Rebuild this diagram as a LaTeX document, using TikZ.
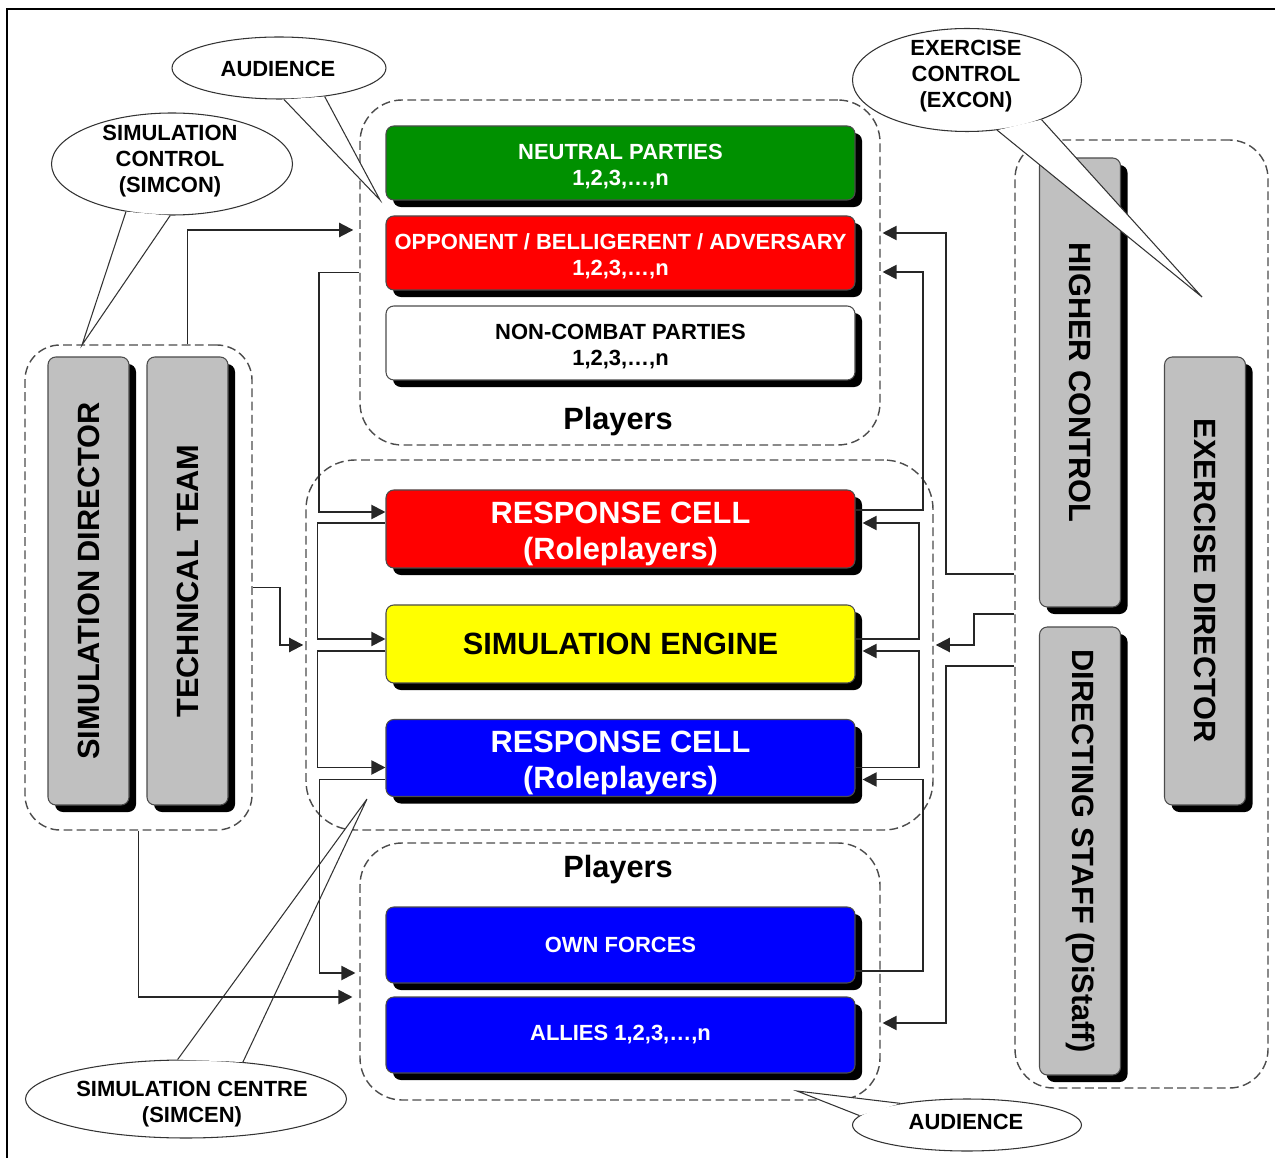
\documentclass[tikz,border=0pt]{standalone}
\usepackage{fontspec}
\setmainfont{Liberation Sans}
\usetikzlibrary{shapes.geometric,shadows,calc,arrows.meta}

% one drawing unit
\newdimen\pxu \pxu=0.02cm

\definecolor{partygreen}{RGB}{0,144,0}
\definecolor{partyred}{RGB}{255,0,0}
\definecolor{partyblue}{RGB}{0,0,255}
\definecolor{engineyellow}{RGB}{255,255,0}
\definecolor{staffgray}{RGB}{192,192,192}

\newcommand\bigfont{\fontsize{17.5}{20.5}\selectfont\bfseries}
\newcommand\smallfont{\fontsize{12.5}{14.7}\selectfont\bfseries}
% taller first line, so two-line labels sit a little lower
\newcommand\toplinebig{\rule{0pt}{17.5pt}}
\newcommand\toplinesmall{\rule{0pt}{12.6pt}}

\tikzset{
  grp/.style={draw=black!70, dash pattern=on 5pt off 2.5pt, line width=0.8pt,
    rounded corners=24pt, inner sep=0pt},
  box/.style={draw=black!70, line width=0.6pt, rounded corners=4.5pt, inner sep=0pt,
    align=center, minimum width=469\pxu,
    drop shadow={shadow xshift=4pt, shadow yshift=-4pt, fill=black, opacity=1}},
  partybox/.style={box, minimum height=74\pxu, font=\smallfont},
  cellbox/.style={box, minimum height=78\pxu, font=\bigfont},
  staffbox/.style={box, fill=staffgray, minimum width=81\pxu, minimum height=448\pxu,
    font=\bigfont},
  bubble/.style={ellipse, draw=black!80, line width=0.6pt, fill=white, inner sep=0pt},
  tail/.style={draw=black!80, line width=0.6pt},
  lbl/.style={font=\smallfont, align=center, inner sep=0pt},
  conn/.style={draw=black!85, line width=1.1pt, -{Triangle[length=8pt,width=8pt]}},
}

\begin{document}
\begin{tikzpicture}[x=0.02cm, y=-0.02cm]
\useasboundingbox (0,0) rectangle (1275,1158);

% frame
\draw[line width=1.2pt] (7,1158) -- (7,9) -- (1275,9);

% dashed groups
\node[grp, minimum width=520\pxu, minimum height=345\pxu] (topgrp) at (620,272.5) {};
\node[grp, minimum width=627\pxu, minimum height=370\pxu, rounded corners=28pt] (midgrp) at (619.5,645) {};
\node[grp, minimum width=520\pxu, minimum height=257\pxu] (botgrp) at (620,971.5) {};
\node[grp, minimum width=227\pxu, minimum height=485\pxu, rounded corners=20pt] (leftgrp) at (138.5,587.5) {};
\node[grp, minimum width=253\pxu, minimum height=948\pxu, rounded corners=22pt] (rightgrp) at (1141.5,614) {};

% players
\node[partybox, fill=partygreen, text=white] (neutral) at (620.5,163) {\toplinesmall NEUTRAL PARTIES\\1,2,3,…,n};
\node[partybox, fill=partyred, text=white] (opp) at (620.5,253) {\toplinesmall OPPONENT / BELLIGERENT / ADVERSARY\\1,2,3,…,n};
\node[partybox, fill=white, text=black] (noncombat) at (620.5,343) {\toplinesmall NON-COMBAT PARTIES\\1,2,3,…,n};
\node[font=\bigfont, inner sep=0pt] (players1) at (618,422) {Players};

% simulation core
\node[cellbox, fill=partyred, text=white] (resp1) at (620.5,529) {\toplinebig RESPONSE CELL\\(Roleplayers)};
\node[cellbox, fill=engineyellow, text=black] (engine) at (620.5,644) {SIMULATION ENGINE};
\node[cellbox, fill=partyblue, text=white, minimum height=77\pxu] (resp2) at (620.5,758) {\toplinebig RESPONSE CELL\\(Roleplayers)};

% own side
\node[font=\bigfont, inner sep=0pt] (players2) at (618,870) {Players};
\node[partybox, fill=partyblue, text=white, minimum height=76\pxu] (own) at (620.5,945) {OWN FORCES};
\node[partybox, fill=partyblue, text=white, minimum height=76\pxu] (allies) at (620.5,1035) {ALLIES 1,2,3,…,n};

% simulation centre staff
\node[staffbox] (simdir) at (88.5,581) {\rotatebox{90}{SIMULATION DIRECTOR}};
\node[staffbox] (techteam) at (187.5,581) {\rotatebox{90}{TECHNICAL TEAM}};

% exercise control staff
\node[staffbox, minimum height=449\pxu] (higher) at (1080,382.5) {\rotatebox{-90}{HIGHER CONTROL}};
\node[staffbox] (distaff) at (1080,851) {\rotatebox{-90}{DIRECTING STAFF (DiStaff)}};
\node[staffbox] (exdir) at (1205,581) {\rotatebox{-90}{EXERCISE DIRECTOR}};

% callouts
\node[bubble, minimum width=214\pxu, minimum height=62\pxu] (audtop) at (279,68) {};
\coordinate (audtoptip) at (380,200);
\fill[white] (audtop.-81) -- (audtoptip) -- (audtop.-32) -- cycle;
\draw[tail] (audtop.-81) -- (audtoptip) -- (audtop.-32);
\node[lbl] (audtoptext) at (278,69) {AUDIENCE};

\node[bubble, minimum width=241\pxu, minimum height=102\pxu] (simcon) at (172,164) {};
\coordinate (simcontip) at (82,345);
\fill[white] (simcon.-134) -- (simcontip) -- (simcon.-92) -- cycle;
\draw[tail] (simcon.-134) -- (simcontip) -- (simcon.-92);
\node[lbl] (simcontext) at (170,161) {SIMULATION\\CONTROL\\(SIMCON)};

\node[bubble, minimum width=229\pxu, minimum height=103\pxu] (excon) at (967,80) {};
\coordinate (excontip) at (1202,297);
\fill[white] (excon.-59) -- (excontip) -- (excon.-28) -- cycle;
\draw[tail] (excon.-59) -- (excontip) -- (excon.-28);
\node[lbl] (excontext) at (966,76) {EXERCISE\\CONTROL\\(EXCON)};

\node[bubble, minimum width=321\pxu, minimum height=78\pxu] (simcen) at (186,1099) {};
\coordinate (simcentip) at (367,799);
\fill[white] (simcen.102) -- (simcentip) -- (simcen.33) -- cycle;
\draw[tail] (simcen.102) -- (simcentip) -- (simcen.33);
\node[lbl] (simcentext) at (192,1104) {SIMULATION CENTRE\\(SIMCEN)};

\node[bubble, minimum width=229\pxu, minimum height=52\pxu] (audbot) at (967,1125) {};
\coordinate (audbottip) at (797,1091);
\fill[white] (audbot.175) -- (audbottip) -- (audbot.162) -- cycle;
\draw[tail] (audbot.175) -- (audbottip) -- (audbot.162);
\node[lbl] (audbottext) at (966,1122) {AUDIENCE};

% connectors, left side
\draw[conn] (techteam.north |- leftgrp.north) |- ($(topgrp.west)+(-6,-42.5)$);
\draw[conn] (topgrp.west) -- ++(-40,0) |- ($(resp1.west)+(0,-17)$);
\draw[conn] ($(resp1.west)+(0,-6)$) -- ++(-68,0) |- ($(engine.west)+(0,-5)$);
\draw[conn] ($(engine.west)+(0,7)$) -- ++(-68,0) |- ($(resp2.west)+(0,9.5)$);
\draw[conn] ($(resp2.west)+(0,21.5)$) -- ++(-66,0) |- ($(own.west)+(-30,28)$);
\draw[conn] (leftgrp.south) |- ($(allies.west)+(-33,-38)$);
\draw[conn] (leftgrp.east) -- ++(27,0) |- ($(midgrp.west)+(-2,0)$);

% connectors, right side
\draw[conn] ($(rightgrp.west)+(0,-40)$) -- ++(-68,0) |- ($(opp.east)+(27,-20)$);
\draw[conn] ($(resp1.east)+(0,-19)$) -- ++(67,0) |- ($(opp.east)+(27,19)$);
\draw[conn] ($(engine.east)+(0,-5)$) -- ++(63,0) |- ($(resp1.east)+(7,-6)$);
\draw[conn] ($(resp2.east)+(0,9.5)$) -- ++(63,0) |- ($(engine.east)+(7,7)$);
\draw[conn] ($(own.east)+(0,26)$) -- ++(67,0) |- ($(resp2.east)+(7,21.5)$);
\draw[conn] (rightgrp.west) -- ++(-40,0) |- ($(midgrp.east)+(2,0)$);
\draw[conn] ($(rightgrp.west)+(0,52)$) -- ++(-68,0) |- ($(allies.east)+(27,-12)$);
\end{tikzpicture}
\end{document}
